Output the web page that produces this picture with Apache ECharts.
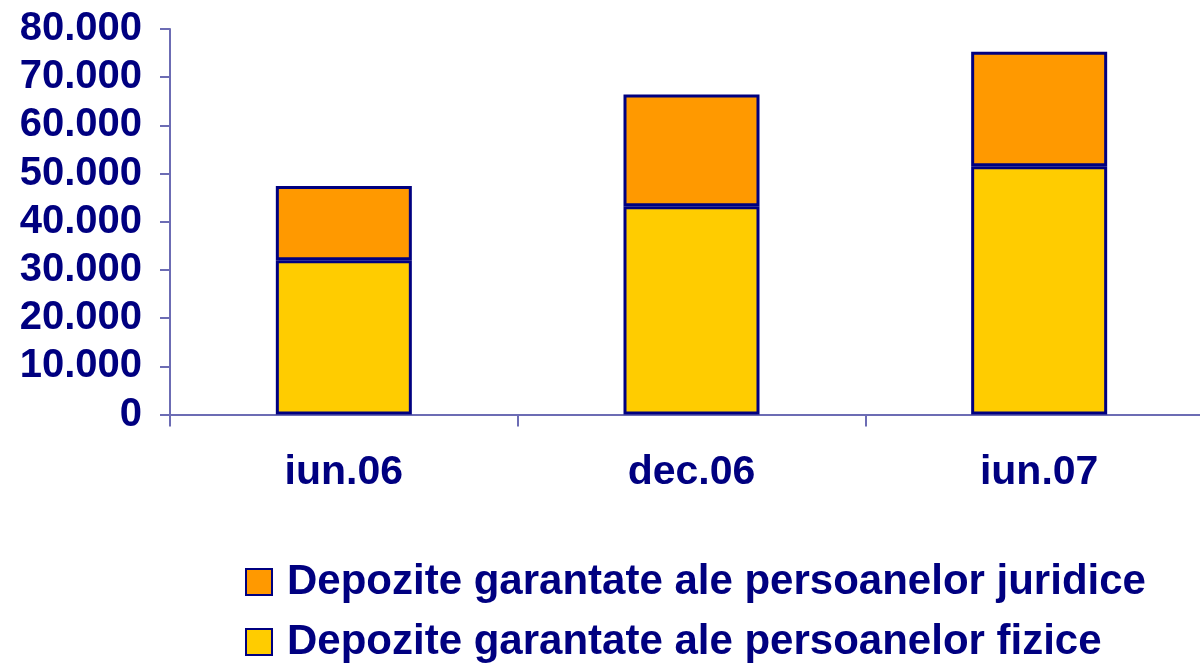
<!DOCTYPE html>
<html lang="ro" style="height: 100%">
<head>
  <meta charset="utf-8">
  <title>Depozite garantate</title>
  <script type="text/javascript" src="https://fastly.jsdelivr.net/npm/echarts@6/dist/echarts.min.js"></script>
</head>
<body style="height: 100%; margin: 0; background: #fff; overflow: hidden">
  <!-- axa X continua putin dincolo de marginea dreapta, ca in original -->
  <div id="chart" style="width: 1213px; height: 665px"></div>

  <script type="text/javascript">
    var dom = document.getElementById('chart');
    var myChart = echarts.init(dom);

    // date
    let perioade = ['iun.06', 'dec.06', 'iun.07'];
    let fizice = [32000, 43200, 51500];
    let juridice = [15400, 23200, 23800];
    let numeFizice = 'Depozite garantate ale persoanelor fizice';
    let numeJuridice = 'Depozite garantate ale persoanelor juridice';

    const navy = '#000080';
    const axisColor = '#6c6cb4';
    const font = 'Liberation Sans, Arial, sans-serif';

    // o legenda pe rand, una sub alta
    function legenda(nume, top) {
      return {
        left: 240,
        top: top,
        icon: 'rect',
        itemWidth: 26,
        itemHeight: 26,
        data: [nume],
        textStyle: { color: navy, fontSize: 42, fontWeight: 'bold', fontFamily: font, padding: [0, 0, 0, 10] }
      };
    }

    let option = {
      backgroundColor: '#fff',
      animation: false,
      textStyle: { fontFamily: font },
      grid: { left: 170, top: 29, right: 0, bottom: 250.5, containLabel: false },
      legend: [legenda(numeJuridice, 556), legenda(numeFizice, 616)],
      xAxis: {
        type: 'category',
        data: perioade,
        axisLine: { lineStyle: { color: axisColor, width: 2 } },
        axisTick: { show: true, length: 12, lineStyle: { color: axisColor, width: 2 } },
        axisLabel: { color: navy, fontSize: 41, fontWeight: 'bold', fontFamily: font, margin: 38 }
      },
      yAxis: {
        type: 'value',
        min: 0,
        max: 80000,
        interval: 10000,
        axisLine: { show: true, lineStyle: { color: axisColor, width: 2 } },
        axisTick: { show: true, length: 10, lineStyle: { color: axisColor, width: 2 } },
        splitLine: { show: false },
        axisLabel: {
          color: navy, fontSize: 40, fontWeight: 'bold', fontFamily: font, margin: 28,
          formatter: v => v === 0 ? '0' : String(v).replace(/\B(?=(\d{3})+(?!\d))/g, '.')
        }
      },
      series: [
        {
          name: numeFizice,
          type: 'bar',
          stack: 'total',
          barWidth: 136,
          data: fizice,
          itemStyle: { color: '#ffcc00', borderColor: navy, borderWidth: 3 }
        },
        {
          name: numeJuridice,
          type: 'bar',
          stack: 'total',
          barWidth: 136,
          data: juridice,
          itemStyle: { color: '#ff9900', borderColor: navy, borderWidth: 3 }
        }
      ]
    };

    myChart.setOption(option);
  </script>
</body>
</html>
